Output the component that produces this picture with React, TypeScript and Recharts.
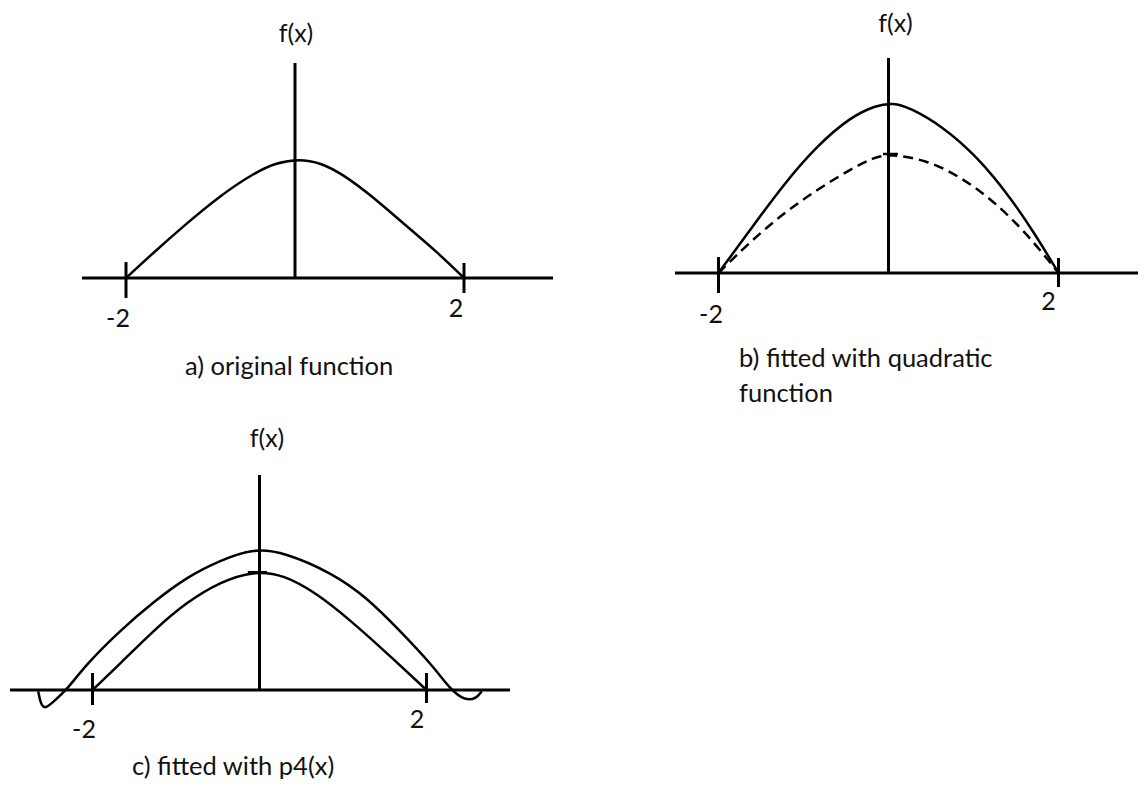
import { LineChart, Line, XAxis, YAxis, ReferenceLine } from "recharts";

const FONT = 'Lato, "Open Sans", sans-serif';
const INK = "#111";

// marked ticks on every horizontal axis
const tickValues = [-2, 2];
const tickLabels = ["-2", "2"];

// a) original function
const originalX = [-2, -1.68, -1.28, -0.89, -0.49, -0.22, 0.05, 0.3, 0.57, 0.89, 1.28, 1.68, 2];
const originalY = [0, 0.21, 0.46, 0.69, 0.88, 0.97, 1.0, 0.97, 0.87, 0.7, 0.46, 0.22, 0];

// b) quadratic fit (solid) drawn over the original (dashed)
const quadFitX = [-2, -1.63, -1.24, -0.84, -0.45, -0.14, 0.05, 0.25, 0.64, 1.04, 1.43, 1.74, 2];
const quadFitY = [0, 0.36, 0.74, 1.07, 1.31, 1.41, 1.43, 1.39, 1.23, 0.98, 0.64, 0.31, 0];
const quadBaseX = [-2, -1.63, -1.24, -0.84, -0.45, -0.18, 0.02, 0.45, 0.84, 1.23, 1.63, 2];
const quadBaseY = [0, 0.26, 0.5, 0.7, 0.87, 0.97, 1.0, 0.95, 0.81, 0.61, 0.33, 0];

// c) p4(x) fit (outer, wiggles past the ends) and the original (inner)
const p4FitX = [-2.65, -2.62, -2.57, -2.47, -2.31, -2.07, -1.67, -1.27, -0.87, -0.47, -0.07, 0.29, 0.88, 1.28, 1.68, 2.08, 2.28, 2.46, 2.6, 2.66];
const p4FitY = [-0.01, -0.12, -0.16, -0.1, 0, 0.22, 0.5, 0.74, 0.95, 1.09, 1.19, 1.16, 0.98, 0.78, 0.5, 0.2, 0.01, -0.09, -0.07, -0.01];
const p4BaseX = [-2, -1.67, -1.27, -0.87, -0.47, -0.07, 0.29, 0.69, 1.08, 1.48, 2];
const p4BaseY = [0, 0.22, 0.5, 0.74, 0.91, 1.0, 0.97, 0.81, 0.59, 0.34, 0];

const toPoints = (xs: number[], ys: number[]) => xs.map((x, i) => ({ x, y: ys[i] }));

// text placed relative to a reference segment's bounding box
function AxisText(props: any) {
  const { viewBox, text, dx = 0, dy = 0, fromTop = false } = props;
  if (!viewBox) return null;
  const x = viewBox.x + dx;
  const y = (fromTop ? viewBox.y : viewBox.y + viewBox.height) + dy;
  return (
    <text x={x} y={y} textAnchor="middle" fontFamily={FONT} fontSize={25} fill={INK}>
      {text}
    </text>
  );
}

interface Curve {
  xs: number[];
  ys: number[];
  dashed?: boolean;
}

interface PanelProps {
  left: number;
  top: number;
  width: number;
  height: number;
  xDomain: [number, number];
  yDomain: [number, number];
  curves: Curve[];
  axisTop: number;
  tickSpans: [number, number][];
  tickOffsets: [number, number][];
  titleOffset: [number, number];
  peakMark?: { x1: number; x2: number; y: number };
}

function Panel(p: PanelProps) {
  return (
    <div style={{ position: "absolute", left: p.left, top: p.top }}>
      <LineChart width={p.width} height={p.height} margin={{ top: 0, right: 0, bottom: 0, left: 0 }}>
        <XAxis type="number" dataKey="x" domain={p.xDomain} allowDataOverflow hide />
        <YAxis type="number" dataKey="y" domain={p.yDomain} allowDataOverflow hide />

        {/* horizontal axis across the whole plot */}
        <ReferenceLine y={0} stroke="#000" strokeWidth={3} ifOverflow="visible" />
        {/* vertical axis, from the origin up */}
        <ReferenceLine
          segment={[{ x: 0, y: 0 }, { x: 0, y: p.axisTop }]}
          stroke="#000"
          strokeWidth={3}
          ifOverflow="visible"
          label={<AxisText text="f(x)" fromTop dx={p.titleOffset[0]} dy={p.titleOffset[1]} />}
        />
        {tickValues.map((t, i) => (
          <ReferenceLine
            key={t}
            segment={[{ x: t, y: p.tickSpans[i][1] }, { x: t, y: p.tickSpans[i][0] }]}
            stroke="#000"
            strokeWidth={3}
            ifOverflow="visible"
            label={<AxisText text={tickLabels[i]} dx={p.tickOffsets[i][0]} dy={p.tickOffsets[i][1]} />}
          />
        ))}
        {p.peakMark && (
          <ReferenceLine
            segment={[{ x: p.peakMark.x1, y: p.peakMark.y }, { x: p.peakMark.x2, y: p.peakMark.y }]}
            stroke="#000"
            strokeWidth={2.5}
            ifOverflow="visible"
          />
        )}

        {/* freehand-looking curves: B-spline through the read points */}
        {p.curves.map((c, i) => (
          <Line
            key={i}
            data={toPoints(c.xs, c.ys)}
            dataKey="y"
            type="basis"
            stroke="#000"
            strokeWidth={2.5}
            strokeDasharray={c.dashed ? "10 6" : undefined}
            dot={false}
            activeDot={false}
            isAnimationActive={false}
          />
        ))}
      </LineChart>
    </div>
  );
}

const captionStyle = {
  position: "absolute" as const,
  fontFamily: FONT,
  fontSize: 25.5,
  lineHeight: "35px",
  color: INK,
  whiteSpace: "nowrap" as const,
};

export default function App() {
  return (
    <div
      style={{
        position: "absolute",
        left: 0,
        top: 0,
        width: 1139,
        height: 785,
        background: "#fff",
        overflow: "hidden",
      }}
    >
      <Panel
        left={82}
        top={0}
        width={471}
        height={345}
        xDomain={[-2.5207, 3.0533]}
        yDomain={[-0.563, 2.336]}
        curves={[{ xs: originalX, ys: originalY }]}
        axisTop={1.807}
        tickSpans={[[-0.168, 0.134], [-0.126, 0.126]]}
        tickOffsets={[[-8, 29], [-8, 24]]}
        titleOffset={[1, -21]}
      />
      <div style={{ ...captionStyle, left: 185, top: 348 }}>a) original function</div>

      <Panel
        left={675}
        top={0}
        width={463}
        height={330}
        xDomain={[-2.5118, 2.9353]}
        yDomain={[-0.479, 2.294]}
        curves={[
          { xs: quadFitX, ys: quadFitY },
          { xs: quadBaseX, ys: quadBaseY, dashed: true },
        ]}
        axisTop={1.807}
        tickSpans={[[-0.168, 0.134], [-0.118, 0.126]]}
        tickOffsets={[[-7.5, 30], [-10, 23]]}
        titleOffset={[7, -26]}
        peakMark={{ x1: -0.065, x2: 0.11, y: 1.0 }}
      />
      <div style={{ ...captionStyle, left: 739, top: 340 }}>
        b) fitted with quadratic
        <br />
        function
      </div>

      <Panel
        left={10}
        top={420}
        width={500}
        height={360}
        xDomain={[-2.988, 3.0]}
        yDomain={[-0.756, 2.2689]}
        curves={[
          { xs: p4FitX, ys: p4FitY },
          { xs: p4BaseX, ys: p4BaseY },
        ]}
        axisTop={1.807}
        tickSpans={[[-0.126, 0.143], [-0.109, 0.143]]}
        tickOffsets={[[-8.5, 33], [-9.5, 25]]}
        titleOffset={[7.5, -28]}
        peakMark={{ x1: -0.14, x2: 0.09, y: 0.99 }}
      />
      <div style={{ ...captionStyle, left: 132, top: 748 }}>c) fitted with p4(x)</div>
    </div>
  );
}
